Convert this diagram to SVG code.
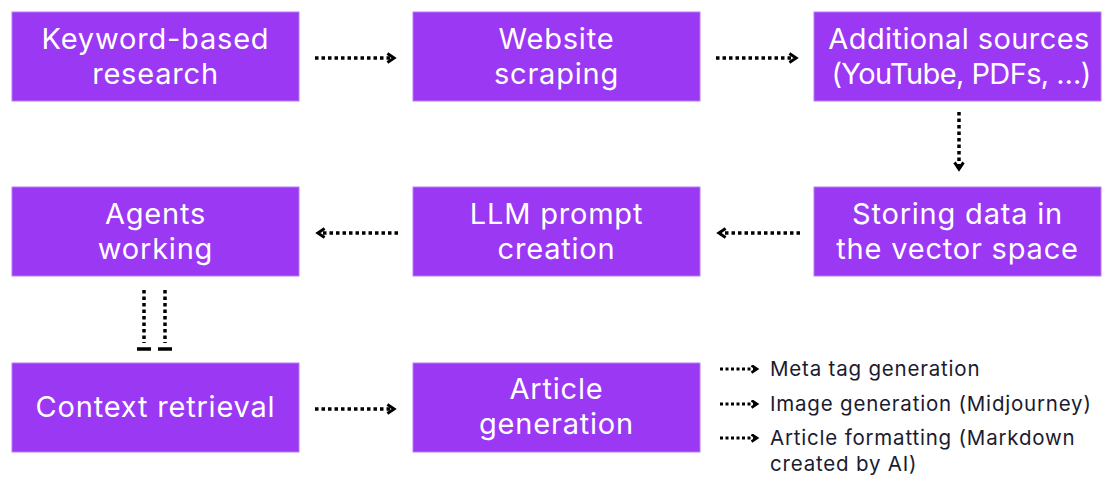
<svg xmlns="http://www.w3.org/2000/svg" width="1110" height="490" viewBox="0 0 1110 490">
<style>
.box{fill:#9b38f4;stroke:#b77cf0;stroke-width:1}
.t{font-family:Inter,"Open Sans",sans-serif;font-size:29px;letter-spacing:0.8px;fill:#ffffff;text-anchor:middle}
.s{font-family:Inter,"Open Sans",sans-serif;font-size:20.5px;letter-spacing:0.8px;fill:#1b1b30}
.c{stroke:#000;stroke-width:3.5;stroke-dasharray:3.5 3;fill:none}
.cs{stroke:#000;stroke-width:3;stroke-dasharray:3 2.5;fill:none}
</style>
<defs>
<marker id="ah" viewBox="0 0 10 10" refX="6" refY="5" markerWidth="3.2" markerHeight="3.2" orient="auto" markerUnits="strokeWidth">
<path d="M1,1 L7,5 L1,9" fill="none" stroke="#000" stroke-width="2.6"/>
</marker>
<marker id="ahs" viewBox="0 0 10 10" refX="6" refY="5" markerWidth="3" markerHeight="3" orient="auto" markerUnits="strokeWidth">
<path d="M1,1 L7,5 L1,9" fill="none" stroke="#000" stroke-width="3"/>
</marker>
</defs>
<rect width="1110" height="490" fill="#ffffff"/>
<g id="n1"><rect class="box" x="12" y="12" width="287" height="89"/><text class="t" x="155.5" y="49">Keyword-based</text><text class="t" x="155.5" y="84">research</text></g>
<g id="n2"><rect class="box" x="413" y="12" width="287" height="89"/><text class="t" x="556.5" y="49">Website</text><text class="t" x="556.5" y="84">scraping</text></g>
<g id="n3"><rect class="box" x="814" y="12" width="287" height="89"/><text class="t" x="959" y="49" style="letter-spacing:0.4px">Additional sources</text><text class="t" x="961" y="84" style="letter-spacing:-0.6px">(YouTube, PDFs, …)</text></g>
<g id="n4"><rect class="box" x="814" y="187" width="287" height="89"/><text class="t" x="957.5" y="224">Storing data in</text><text class="t" x="957.5" y="259">the vector space</text></g>
<g id="n5"><rect class="box" x="413" y="187" width="287" height="89"/><text class="t" x="556.5" y="224">LLM prompt</text><text class="t" x="556.5" y="259">creation</text></g>
<g id="n6"><rect class="box" x="12" y="187" width="287" height="89"/><text class="t" x="155.5" y="224">Agents</text><text class="t" x="155.5" y="259">working</text></g>
<g id="n7"><rect class="box" x="12" y="363" width="287" height="89"/><text class="t" x="155.5" y="417">Context retrieval</text></g>
<g id="n8"><rect class="box" x="413" y="363" width="287" height="89"/><text class="t" x="556.5" y="399">Article</text><text class="t" x="556.5" y="434">generation</text></g>
<g id="notes">
<text class="s" x="770" y="376">Meta tag generation</text>
<text class="s" x="770" y="411">Image generation (Midjourney)</text>
<text class="s" x="770" y="445">Article formatting (Markdown</text>
<text class="s" x="770" y="471">created by AI)</text>
</g>
<g id="connectors">
<path class="c" d="M315,58 H393" marker-end="url(#ah)"/>
<path class="c" d="M716,58 H795" marker-end="url(#ah)"/>
<path class="c" d="M959,112 V168" marker-end="url(#ah)"/>
<path class="c" d="M800,233 H720" marker-end="url(#ah)"/>
<path class="c" d="M398,233 H319" marker-end="url(#ah)"/>
<path class="c" d="M315,409 H393" marker-end="url(#ah)"/>
<path class="c" d="M144,290 V343"/>
<path class="c" d="M165,290 V343"/>
<path d="M137,349 H151 M158,349 H172" stroke="#000" stroke-width="3.5" fill="none"/>
<path class="cs" d="M720,369 H756" marker-end="url(#ahs)"/>
<path class="cs" d="M720,404 H756" marker-end="url(#ahs)"/>
<path class="cs" d="M720,438 H756" marker-end="url(#ahs)"/>
</g>
</svg>
